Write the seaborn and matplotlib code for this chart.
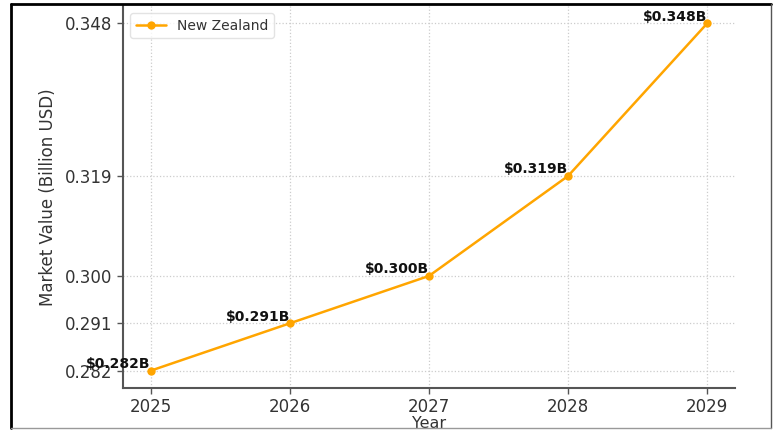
import matplotlib
matplotlib.use("Agg")
import matplotlib.pyplot as plt
from matplotlib.lines import Line2D
import seaborn as sns
import pandas as pd

years = [2025, 2026, 2027, 2028, 2029]
values = [0.282, 0.291, 0.300, 0.319, 0.348]
labels = ["$0.282B", "$0.291B", "$0.300B", "$0.319B", "$0.348B"]
series_name = "New Zealand"

sns.set_style("whitegrid")
plt.rcParams['font.family'] = ['DejaVu Sans']

df = pd.DataFrame({"Year": years, "Value": values, "Country": series_name})

fig = plt.figure(figsize=(7.74, 4.30), dpi=100)
ax = fig.add_axes([123/774, 1-388/430, (735-123)/774, (388-6)/430])

sns.lineplot(data=df, x="Year", y="Value", hue="Country", palette=["#FFA500"],
             marker="o", markersize=6, markeredgewidth=0, linewidth=1.8, ax=ax)

for x, y, t in zip(years, values, labels):
    ax.annotate(t, (x, y), xytext=(0, 2), textcoords="offset points",
                ha="right", va="baseline", fontsize=10, fontweight="bold", color="#111111")

ax.set_xticks(years)
ax.set_xticklabels([str(y) for y in years])
ax.set_yticks(values)
ax.set_yticklabels([f"{v:.3f}" for v in values])
ax.set_xlim(2024.8, 2029.2)
ax.set_ylim(0.282 - 0.0033, 0.348 + 0.0033)

ax.grid(True, linestyle=":", color="#cccccc", linewidth=0.9)
for s in ["top", "right"]:
    ax.spines[s].set_visible(False)
for s in ["left", "bottom"]:
    ax.spines[s].set_color("#555555")
    ax.spines[s].set_linewidth(1.5)
ax.tick_params(axis="both", which="both", length=4, width=1, color="#555555",
               labelsize=12, labelcolor="#333333", left=True, bottom=True)

ax.set_xlabel("Year", fontsize=11.5, color="#333333", labelpad=0)
ax.set_ylabel("Market Value (Billion USD)", fontsize=12, color="#333333", labelpad=6)

leg = ax.legend(loc="upper left", fontsize=10, frameon=True, title=None,
                borderpad=0.4, handlelength=2.2)
leg.get_frame().set_edgecolor("#dddddd")
for t in leg.get_texts():
    t.set_color("#333333")

# outer frame of the picture
fig.add_artist(Line2D([11/774, 11/774], [2/430, 1-4/430], transform=fig.transFigure, color="black", lw=2))
fig.add_artist(Line2D([11/774, 771/774], [1-4/430, 1-4/430], transform=fig.transFigure, color="black", lw=2))
fig.add_artist(Line2D([771/774, 771/774], [2/430, 1-4/430], transform=fig.transFigure, color="#555555", lw=1))
fig.add_artist(Line2D([11/774, 771/774], [2/430, 2/430], transform=fig.transFigure, color="#999999", lw=1))

fig.savefig("out.png", dpi=100)
